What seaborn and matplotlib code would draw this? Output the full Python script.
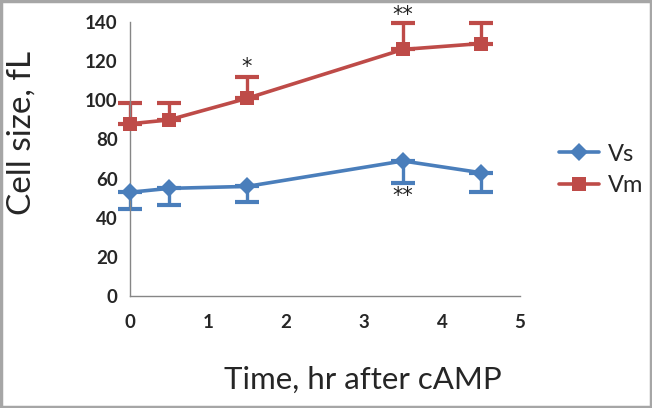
import pandas as pd
import matplotlib.pyplot as plt
import seaborn as sns
from matplotlib.patches import Rectangle

# values
hours = [0, 0.5, 1.5, 3.5, 4.5]
vs_size = [53, 55, 56, 69, 63]
vs_err_down = [8.5, 8.5, 8, 11, 10]
vm_size = [88, 90, 101, 126, 129]
vm_err_up = [10.5, 8.5, 11, 13.5, 10.5]
stars = [("*", 1.5, 112, "bottom"), ("**", 3.5, 138.5, "bottom"), ("**", 3.5, 56, "top")]

blue = "#4A7EBB"
red = "#BE4B48"

df = pd.DataFrame({
    "hours": hours * 2,
    "size": vs_size + vm_size,
    "series": ["Vs"] * len(hours) + ["Vm"] * len(hours),
})

sns.set_style("white")
plt.rcParams["font.family"] = ["Lato", "DejaVu Sans"]

fig = plt.figure(figsize=(6.52, 4.08), dpi=100)
ax = fig.add_axes([0.1994, 0.2745, 0.5981, 0.6715])

for name, col, vals, err in [("Vs", blue, vs_size, [vs_err_down, [0] * 5]),
                             ("Vm", red, vm_size, [[0] * 5, vm_err_up])]:
    eb = ax.errorbar(hours, vals, yerr=err, fmt="none", ecolor=col, elinewidth=2.4,
                     capsize=8.5, capthick=3, zorder=2)
    for art in eb.lines[1] + eb.lines[2]:
        art.set_clip_on(False)

sns.lineplot(data=df, x="hours", y="size", hue="series", style="series",
             palette={"Vs": blue, "Vm": red}, markers={"Vs": "D", "Vm": "s"},
             dashes=False, linewidth=2.6, markersize=9.5, markeredgewidth=0,
             ax=ax, zorder=3)
for line in ax.lines:
    line.set_clip_on(False)

for s, x, y, va in stars:
    ax.text(x, y, s, ha="center", va=va, fontsize=15, color="#222222",
            family="DejaVu Sans")

ax.set_xlim(0, 5)
ax.set_ylim(0, 140)
ax.set_xticks(range(0, 6))
ax.set_yticks(range(0, 141, 20))
for side in ["top", "right"]:
    ax.spines[side].set_visible(False)
for side in ["left", "bottom"]:
    ax.spines[side].set_color("#868686")
    ax.spines[side].set_linewidth(1)
ax.tick_params(axis="both", direction="out", length=5, width=1, color="#868686",
               labelsize=13.5, pad=4)
ax.tick_params(axis="x", pad=8)
for lab in ax.get_xticklabels() + ax.get_yticklabels():
    lab.set_fontweight("bold")
ax.set_xlabel("Time, hr after cAMP", fontsize=22.5, va="center", ha="center")
ax.set_ylabel("Cell size, fL", fontsize=24, va="center", ha="center")
ax.xaxis.set_label_coords(0.597, -0.307)
ax.yaxis.set_label_coords(-0.278, 0.595)

ax.legend(loc="center left", bbox_to_anchor=(1.045, 0.46), frameon=False,
          fontsize=17, handlelength=1.7, handletextpad=0.4, labelspacing=0.45)

fig.add_artist(Rectangle((0.002, 0.003), 0.996, 0.994, transform=fig.transFigure,
                         fill=False, edgecolor="#A6A6A6", linewidth=2.5))

fig.savefig("out.png", dpi=100)
